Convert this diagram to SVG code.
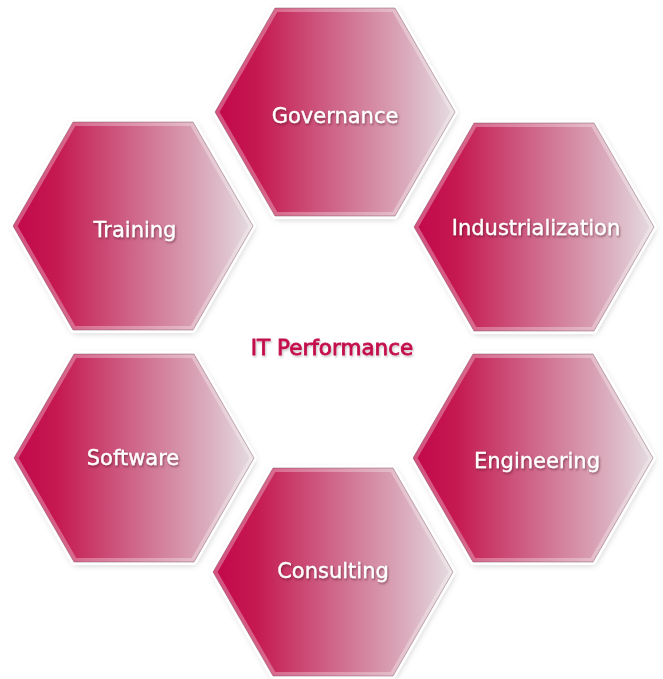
<svg xmlns="http://www.w3.org/2000/svg" xmlns:xlink="http://www.w3.org/1999/xlink" width="663" height="679" viewBox="0 0 663 679">
  <defs>
    <linearGradient id="hexFill" x1="0" y1="0" x2="1" y2="0">
      <stop offset="0" stop-color="#c2074a"/>
      <stop offset="0.18" stop-color="#c51951"/>
      <stop offset="0.5" stop-color="#cf6689"/>
      <stop offset="0.8" stop-color="#daabbc"/>
      <stop offset="1" stop-color="#e5dde1"/>
    </linearGradient>
    <filter id="shadow" x="-20%" y="-20%" width="140%" height="140%">
      <feGaussianBlur stdDeviation="3.5"/>
    </filter>
    <filter id="txtShadow" x="-10%" y="-30%" width="120%" height="160%">
      <feDropShadow dx="1" dy="1.5" stdDeviation="1.2" flood-color="#4a1020" flood-opacity="0.55"/>
    </filter>
    <filter id="titleShadow" x="-10%" y="-30%" width="120%" height="160%">
      <feDropShadow dx="1" dy="1.5" stdDeviation="1.2" flood-color="#000" flood-opacity="0.25"/>
    </filter>
    <polygon id="hex" points="-120,0 -60,-104 60,-104 120,0 60,104 -60,104"/>
    <g id="hexTile">
      <use xlink:href="#hex" fill="#8a8a8a" opacity="0.7" filter="url(#shadow)" transform="translate(1,2)"/>
      <use xlink:href="#hex" fill="#ffffff" stroke="#ffffff" stroke-width="6" stroke-linejoin="round"/>
      <use xlink:href="#hex" fill="url(#hexFill)"/>
      <use xlink:href="#hex" fill="none" stroke="#ffffff" stroke-opacity="0.3" stroke-width="8"/>
      <use xlink:href="#hex" fill="none" stroke="#6a3a4a" stroke-opacity="0.4" stroke-width="1"/>
    </g>
  </defs>
  <style>
    .lbl { font-family: "DejaVu Sans", "Liberation Sans", sans-serif; font-size: 21px; fill: #ffffff; stroke: #ffffff; stroke-width: 0.3; text-anchor: middle; }
    .title { font-family: "DejaVu Sans", "Liberation Sans", sans-serif; font-size: 21.5px; fill: #c4104c; stroke: #c4104c; stroke-width: 0.8; text-anchor: middle; }
  </style>
  <rect width="663" height="679" fill="#ffffff"/>
  <g id="connectors"/>
  <g id="governance">
    <use xlink:href="#hexTile" transform="translate(335,112)"/>
    <text class="lbl" x="335" y="123" filter="url(#txtShadow)">Governance</text>
  </g>
  <g id="training">
    <use xlink:href="#hexTile" transform="translate(133,226)"/>
    <text class="lbl" x="135" y="237" filter="url(#txtShadow)">Training</text>
  </g>
  <g id="industrialization">
    <use xlink:href="#hexTile" transform="translate(534,227)"/>
    <text class="lbl" x="536" y="235" filter="url(#txtShadow)">Industrialization</text>
  </g>
  <g id="software">
    <use xlink:href="#hexTile" transform="translate(134,458)"/>
    <text class="lbl" x="133" y="465" filter="url(#txtShadow)">Software</text>
  </g>
  <g id="engineering">
    <use xlink:href="#hexTile" transform="translate(533,458)"/>
    <text class="lbl" x="537" y="468" filter="url(#txtShadow)">Engineering</text>
  </g>
  <g id="consulting">
    <use xlink:href="#hexTile" transform="translate(333,572)"/>
    <text class="lbl" x="333" y="578" filter="url(#txtShadow)">Consulting</text>
  </g>
  <g id="it-performance">
    <text class="title" x="332" y="355" filter="url(#titleShadow)">IT Performance</text>
  </g>
</svg>
